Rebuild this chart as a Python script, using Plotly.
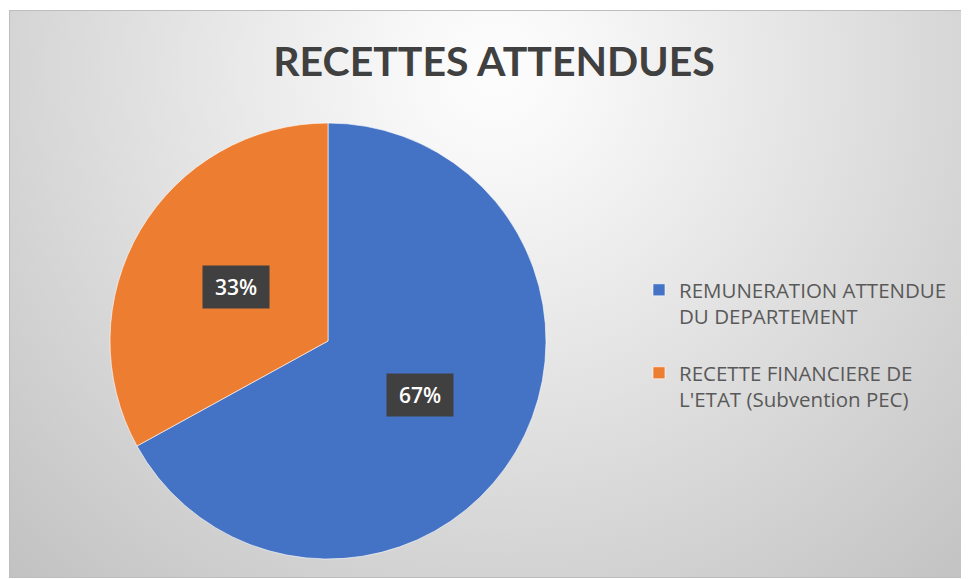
import base64
import math
import plotly.graph_objects as go

# ----------------------------------------------------------------------
# Data
# ----------------------------------------------------------------------
labels = ["REMUNERATION ATTENDUE<br>DU DEPARTEMENT<br> ",
          "RECETTE FINANCIERE DE<br>L'ETAT (Subvention PEC)"]
values = [67, 33]
colors = ["#4472C4", "#ED7D31"]
title = "RECETTES ATTENDUES"

# page body has an 8px margin, so the figure is shrunk and shifted
OFF = 8
W, H = 969 - OFF, 579 - OFF
# pie centre / radius in page pixels
PCX, PCY, PR = 328, 341, 218


def px(x):
    return (x - OFF) / W


def py(y):
    return 1 - (y - OFF) / H


# ----------------------------------------------------------------------
# Background: radial gradient panel (svg data uri)
# ----------------------------------------------------------------------
BX0, BY0, BX1, BY1 = 9, 10, 969, 578
bw, bh = BX1 - BX0, BY1 - BY0
svg = f"""<svg xmlns='http://www.w3.org/2000/svg' width='{bw}' height='{bh}'>
<defs><radialGradient id='g' gradientUnits='userSpaceOnUse' cx='485' cy='60' r='720'>
<stop offset='0' stop-color='#fdfdfd'/><stop offset='0.12' stop-color='#f8f8f8'/>
<stop offset='1' stop-color='#c0c0c0'/></radialGradient></defs>
<rect x='0.5' y='0.5' width='{bw-1}' height='{bh-1}' fill='url(#g)' stroke='#bdbdbd' stroke-width='1'/>
</svg>"""
bg_uri = "data:image/svg+xml;base64," + base64.b64encode(svg.encode()).decode()

fig = go.Figure()
fig.add_trace(go.Pie(
    labels=labels, values=values, sort=False,
    direction="clockwise", rotation=0,
    marker=dict(colors=colors, line=dict(color="rgba(255,255,255,0.6)", width=1)),
    textinfo="none",
    domain=dict(x=[px(PCX - PR), px(PCX + PR)], y=[py(PCY + PR), py(PCY - PR)]),
))

# percentage labels in dark boxes, placed along each slice's mid angle
total = sum(values)
annotations = []
start = 0.0
for v in values:
    frac = v / total
    mid = (start + frac / 2) * 2 * math.pi
    lx = PCX + 0.49 * PR * math.sin(mid)
    ly = PCY - 0.49 * PR * math.cos(mid)
    annotations.append(dict(
        x=px(lx), y=py(ly), xref="paper", yref="paper", showarrow=False,
        xanchor="center", yanchor="middle",
        text=f"{round(frac * 100)}%", width=52, height=28,
        font=dict(family="Open Sans", size=21, color="white", weight=600),
        bgcolor="#404040", borderpad=7,
    ))
    start += frac

fig.update_layout(
    width=W, height=H,
    margin=dict(l=0, r=0, t=0, b=0),
    paper_bgcolor="white", plot_bgcolor="rgba(0,0,0,0)",
    title=dict(text=title, x=px(494), xanchor="center", y=py(62), yanchor="middle",
               font=dict(family="Lato", size=41, color="#404040", weight="bold")),
    images=[dict(source=bg_uri, xref="paper", yref="paper",
                 x=px(BX0), y=py(BY0), sizex=bw / W, sizey=bh / H,
                 xanchor="left", yanchor="top", sizing="stretch", layer="below")],
    legend=dict(x=px(639), xanchor="left", y=py(270), yanchor="top",
                valign="top", bgcolor="rgba(0,0,0,0)",
                font=dict(family="Open Sans", size=20.5, color="#595959")),
    annotations=annotations,
)

fig.write_html("out.html")
